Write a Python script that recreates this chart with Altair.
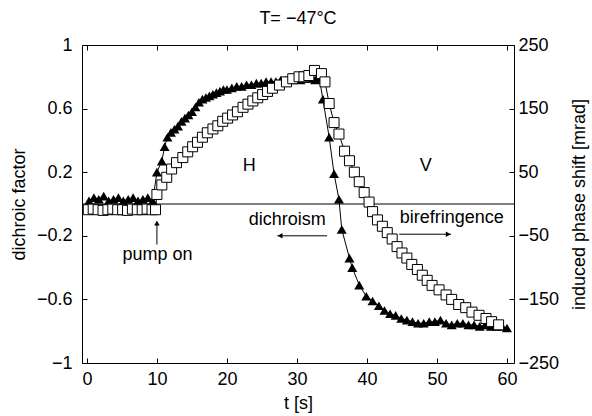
import altair as alt
import pandas as pd

FONT = "Liberation Sans"

# dichroic factor (filled triangles), left axis
tri_t = [0.3, 1.0, 1.7, 2.4, 3.1, 3.8, 4.5, 5.2, 5.9, 6.6, 7.3, 8.0, 8.7, 9.4,
         10.0, 10.7, 11.1, 11.5, 12.0, 12.5, 13.0, 13.5, 14.0, 14.5, 15.0, 15.5,
         16.0, 16.5, 17.0, 17.5, 18.0, 18.5, 19.0, 19.5, 20.0, 20.7, 21.4, 22.1,
         22.8, 23.5, 24.2, 24.9, 25.6, 26.3, 27.0, 27.7, 28.4, 29.1, 29.8, 30.5,
         31.2, 31.9, 32.6, 33.2,
         33.7, 34.6, 35.3, 36.0, 36.4, 37.5, 37.9, 38.9, 39.9, 40.8, 41.7, 42.5,
         43.3, 44.1, 44.9, 45.7, 46.5, 47.3, 48.1, 48.9, 49.7, 50.5, 51.3, 52.1,
         52.9, 53.7, 54.5, 55.3, 56.1, 56.9, 57.7, 58.5, 59.3, 60.0]
tri_v = [0.02, 0.04, 0.03, 0.05, 0.02, 0.03, 0.04, 0.02, 0.03, 0.04, 0.02, 0.03, 0.04, 0.02,
         0.20, 0.27, 0.36, 0.42, 0.45, 0.47, 0.49, 0.52, 0.54, 0.56, 0.58, 0.61,
         0.64, 0.66, 0.67, 0.68, 0.69, 0.70, 0.71, 0.72, 0.72, 0.73, 0.74, 0.74,
         0.75, 0.75, 0.76, 0.76, 0.77, 0.77, 0.77, 0.78, 0.78, 0.78, 0.79, 0.78,
         0.79, 0.79, 0.78, 0.79,
         0.66, 0.42, 0.19, 0.03, -0.16, -0.34, -0.40, -0.51, -0.58, -0.61, -0.64, -0.67,
         -0.69, -0.70, -0.72, -0.73, -0.74, -0.75, -0.75, -0.74, -0.74, -0.73, -0.75, -0.76,
         -0.75, -0.75, -0.76, -0.76, -0.77, -0.76, -0.77, -0.77, -0.77, -0.78]

# induced phase shift (open squares), right axis, mrad
sq_t = [0.2, 0.9, 1.6, 2.3, 3.0, 3.7, 4.4, 5.1, 5.8, 6.5, 7.2, 7.9, 8.6, 9.3, 9.8,
        10.0, 10.7, 11.4, 12.1, 12.8, 13.7, 14.4, 15.1, 15.8, 16.5, 17.2, 18.0,
        18.7, 19.4, 20.1, 20.8, 21.5, 22.3, 23.0, 23.7, 24.4, 25.1, 25.8, 26.5,
        27.5, 28.5, 29.4, 30.3, 31.0, 31.7, 32.5, 33.5, 34.0, 34.6, 35.3, 36.0,
        36.8, 37.5, 38.2, 38.9, 39.6, 40.3, 40.8, 41.5, 42.2, 42.9, 43.6, 44.3,
        45.0, 45.7, 46.4, 47.2, 47.9, 48.6, 49.3, 50.3, 51.3, 52.1, 53.1, 54.1,
        55.0, 56.0, 57.0, 57.8, 58.8]
sq_mrad = [-9, -8, -9, -10, -9, -8, -9, -9, -10, -8, -9, -9, -8, -9, -9,
           15, 30, 42, 55, 65, 73, 82, 90, 97, 105, 112, 118,
           123, 130, 135, 140, 145, 152, 157, 162, 167, 172, 177, 182,
           187, 192, 197, 200, 200, 202, 210, 205, 192, 158, 128, 110,
           83, 68, 50, 35, 18, 3, -12, -25, -35, -45, -55, -67,
           -77, -85, -95, -103, -112, -120, -128, -135, -143, -150, -158, -163,
           -170, -175, -180, -185, -190]

# annotations (data coordinates on left scale)
ann_label = ["H", "V", "dichroism", "birefringence", "pump on"]
ann_t = [23.2, 48.4, 28.6, 52.1, 10.1]
ann_v = [0.24, 0.24, -0.10, -0.09, -0.32]

arrow_t1 = [27.2, 44.6, 10.0]
arrow_t2 = [34.3, 52.0, 10.0]
arrow_v1 = [-0.20, -0.19, -0.255]
arrow_v2 = [-0.20, -0.19, -0.11]

head_t = [27.6, 51.6, 10.0]
head_v = [-0.20, -0.19, -0.12]
head_shape = ["triangle-left", "triangle-right", "triangle-up"]

tick_x = [0, 10, 20, 30, 40, 50, 60]
tick_left = [-1, -0.6, -0.2, 0.2, 0.6, 1]
tick_right = [-250, -150, -50, 50, 150, 250]

tri = pd.DataFrame({"t": tri_t, "v": tri_v})
sq = pd.DataFrame({"t": sq_t, "mrad": sq_mrad})
ann = pd.DataFrame({"label": ann_label, "t": ann_t, "v": ann_v})
arr = pd.DataFrame({"t": arrow_t1, "t2": arrow_t2, "v": arrow_v1, "v2": arrow_v2})
heads = pd.DataFrame({"t": head_t, "v": head_v, "shape": head_shape})
zero = pd.DataFrame({"v": [0]})

xs = alt.Scale(domain=[-0.7, 61], nice=False, zero=False)
ys = alt.Scale(domain=[-1, 1], nice=False, zero=False)
yr = alt.Scale(domain=[-250, 250], nice=False, zero=False)

common = dict(labelFont=FONT, titleFont=FONT, labelFontSize=18, titleFontSize=18,
              labelColor="black", titleColor="black", tickColor="black",
              titleFontWeight="normal", grid=False, domain=False,
              tickSize=5, offset=-5)

xaxis = alt.Axis(values=tick_x, title="t [s]", labelPadding=7, titlePadding=6, **common)
xaxis_top = alt.Axis(values=tick_x, orient="top", labels=False, title=None, **common)
yaxis = alt.Axis(values=tick_left, format=".1~f", title="dichroic factor",
                 labelPadding=10, titlePadding=8, **common)
yaxis_r = alt.Axis(values=tick_right, orient="right", title="induced phase shift [mrad]",
                   titleAngle=270, titleBaseline="top", labelPadding=4, titlePadding=12,
                   **common)

X = alt.X("t:Q", scale=xs, axis=xaxis)
Y = alt.Y("v:Q", scale=ys, axis=yaxis)

zero_line = alt.Chart(zero).mark_rule(color="black", strokeWidth=1).encode(y=Y)
tri_line = alt.Chart(tri).mark_line(color="black", strokeWidth=1).encode(x=X, y=Y)
tri_pts = alt.Chart(tri).mark_point(shape="triangle-up", filled=True, color="black",
                                    size=100, opacity=1).encode(x=X, y=Y)
texts = alt.Chart(ann).mark_text(font=FONT, fontSize=18, color="black",
                                 baseline="middle", align="center").encode(
    x=X, y=Y, text="label:N")
arrows = alt.Chart(arr).mark_rule(color="black", strokeWidth=1).encode(
    x=X, x2="t2:Q", y=Y, y2="v2:Q")
arrow_heads = alt.Chart(heads).mark_point(filled=True, color="black", size=30,
                                          opacity=1).encode(
    x=X, y=Y, shape=alt.Shape("shape:N", scale=None))

left = alt.layer(zero_line, tri_line, tri_pts, arrows, arrow_heads, texts)

XR = alt.X("t:Q", scale=xs, axis=xaxis_top)
YR = alt.Y("mrad:Q", scale=yr, axis=yaxis_r)
sq_line = alt.Chart(sq).mark_line(color="black", strokeWidth=1).encode(x=XR, y=YR)
sq_pts = alt.Chart(sq).mark_point(shape="square", filled=True, fill="white",
                                  stroke="black", strokeWidth=1, size=100,
                                  opacity=1).encode(x=XR, y=YR)
right = alt.layer(sq_line, sq_pts)

chart = alt.layer(left, right).resolve_scale(x="independent", y="independent").properties(
    width=432, height=318,
    autosize=alt.AutoSizeParams(type="none"),
    padding={"left": 82, "top": 45, "right": 78, "bottom": 53},
    title=alt.TitleParams("T= −47°C", font=FONT, fontSize=18, fontWeight="normal",
                          color="black", offset=8, anchor="middle"),
    background="white",
).configure_view(stroke="black", strokeWidth=1)

chart.save("out.html", embed_options={"renderer": "svg", "actions": False})
